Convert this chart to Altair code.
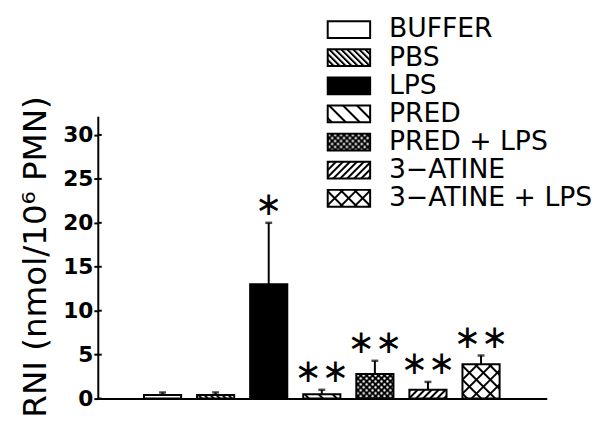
import base64
import altair as alt
import pandas as pd

# ---- data ----
categories = ["BUFFER", "PBS", "LPS", "PRED", "PRED + LPS", "3-ATINE", "3-ATINE + LPS"]
legend_labels = ["BUFFER", "PBS", "LPS", "PRED", "PRED + LPS", "3\u2212ATINE", "3\u2212ATINE + LPS"]
values = [0.4, 0.4, 13.0, 0.5, 2.8, 1.0, 3.9]
errors = [0.3, 0.3, 7.0, 0.5, 1.5, 0.9, 1.0]
signif = ["", "", "\u2217", "\u2217\u2217", "\u2217\u2217", "\u2217\u2217", "\u2217\u2217"]
y_ticks = [0, 5, 10, 15, 20, 25, 30]


# ---- fill patterns (style) ----
def pattern_url(defs, bg, overlay=True):
    body = f"<rect width='100%' height='100%' fill='{bg}'/>"
    if overlay:
        body += "<rect width='100%' height='100%' fill='url(#p)'/>"
    svg = ("<svg xmlns='http://www.w3.org/2000/svg' width='100%' height='100%'>"
           f"<defs>{defs}</defs>{body}</svg>")
    return "data:image/svg+xml;base64," + base64.b64encode(svg.encode()).decode()


def lines(spacing, angle, width=2.0):
    return (f"<pattern id='p' width='{spacing}' height='{spacing}' patternUnits='userSpaceOnUse' "
            f"patternTransform='rotate({angle})'>"
            f"<line x1='0' y1='0' x2='0' y2='{spacing}' stroke='black' stroke-width='{width * 2}'/></pattern>")


def cross(spacing, width=2.0):
    return (f"<pattern id='p' width='{spacing}' height='{spacing}' patternUnits='userSpaceOnUse' "
            f"patternTransform='rotate(45)'>"
            f"<line x1='0' y1='0' x2='0' y2='{spacing}' stroke='black' stroke-width='{width * 2}'/>"
            f"<line x1='0' y1='0' x2='{spacing}' y2='0' stroke='black' stroke-width='{width * 2}'/></pattern>")


dots = ("<pattern id='p' width='6' height='6' patternUnits='userSpaceOnUse'>"
        "<circle cx='1.5' cy='1.5' r='1.2' fill='white'/><circle cx='4.5' cy='4.5' r='1.2' fill='white'/></pattern>")

patterns = {
    "BUFFER": pattern_url("", "white", overlay=False),
    "PBS": pattern_url(lines(4.3, -45), "white"),
    "LPS": pattern_url("", "black", overlay=False),
    "PRED": pattern_url(lines(10, -45), "white"),
    "PRED + LPS": pattern_url(dots, "black"),
    "3-ATINE": pattern_url(lines(5, 45), "white"),
    "3-ATINE + LPS": pattern_url(cross(10), "white"),
}

df = pd.DataFrame({
    "cat": categories,
    "label": legend_labels,
    "value": values,
    "err": errors,
    "sig": signif,
})
df["top"] = df["value"] + df["err"]
df["url"] = df["cat"].map(patterns)
df["zero"] = 0.0

ticks_df = pd.DataFrame({"t": y_ticks})

FONT = "DejaVu Sans"

x_enc = alt.X("cat:N", sort=categories,
              scale=alt.Scale(paddingInner=0.3, paddingOuter=0.87),
              axis=alt.Axis(labels=False, ticks=False, title=None, domainWidth=2,
                            domainColor="black"))
y_scale = alt.Scale(domain=[0, 32], nice=False, zero=True)

base = alt.Chart(df)

bars_img = base.mark_image(aspect=False).encode(
    x=x_enc,
    y=alt.Y("value:Q", scale=y_scale,
            axis=alt.Axis(values=y_ticks, tickSize=4, tickWidth=2, domainWidth=2,
                          domainColor="black", tickColor="black", grid=False,
                          labelFont=FONT, labelFontSize=22, labelFontWeight="bold",
                          labelColor="black", labelPadding=1,
                          title="RNI (nmol/10\u2076 PMN)", titleFont=FONT, titleFontSize=33,
                          titleFontWeight="normal", titleColor="black",
                          titleAngle=270, titleX=-63, titleY=141,
                          titleAlign="center", titleBaseline="middle")),
    y2="zero:Q",
    url="url:N",
)

bars_outline = base.mark_bar(fillOpacity=0, stroke="black", strokeWidth=2).encode(
    x=alt.X("cat:N", sort=categories),
    y=alt.Y("value:Q", scale=y_scale),
    y2="zero:Q",
)

err_rule = base.mark_rule(strokeWidth=2, color="black").encode(
    x=alt.X("cat:N", sort=categories),
    y=alt.Y("value:Q", scale=y_scale),
    y2="top:Q",
)

err_cap = base.mark_tick(size=7, thickness=2.5, color="black").encode(
    x=alt.X("cat:N", sort=categories),
    y=alt.Y("top:Q", scale=y_scale),
)

stars = base.mark_text(font=FONT, fontSize=33, baseline="middle", dy=-18, color="black").encode(
    x=alt.X("cat:N", sort=categories),
    y=alt.Y("top:Q", scale=y_scale),
    text="sig:N",
)

inner_ticks = alt.Chart(ticks_df).mark_rule(strokeWidth=2, color="black").encode(
    x=alt.value(0), x2=alt.value(4),
    y=alt.Y("t:Q", scale=y_scale),
)

main = alt.layer(bars_img, bars_outline, err_rule, err_cap, stars, inner_ticks)

leg_y = alt.Y("cat:N", sort=categories,
              scale=alt.Scale(range=[-97.5, 90.5], paddingInner=0.4035, paddingOuter=0),
              axis=None)

leg_img = base.mark_image(aspect=False).encode(
    x=alt.value(233), x2=alt.value(276), y=leg_y, url="url:N")
leg_box = base.mark_rect(fillOpacity=0, stroke="black", strokeWidth=2).encode(
    x=alt.value(233), x2=alt.value(276), y=leg_y)
leg_txt = base.mark_text(font=FONT, fontSize=27, align="left", baseline="middle",
                         color="black").encode(
    x=alt.value(295), y=leg_y, text="label:N")

legend = alt.layer(leg_img, leg_box, leg_txt)

chart = alt.layer(main, legend).resolve_scale(y="independent").properties(
    width=454, height=285,
    autosize=alt.AutoSizeParams(type="none"),
    padding={"left": 91, "top": 108, "right": 60, "bottom": 28},
).configure_view(stroke=None).configure_axis(domainCap="square")

chart.save("out.html", embed_options={"renderer": "svg", "actions": False})
